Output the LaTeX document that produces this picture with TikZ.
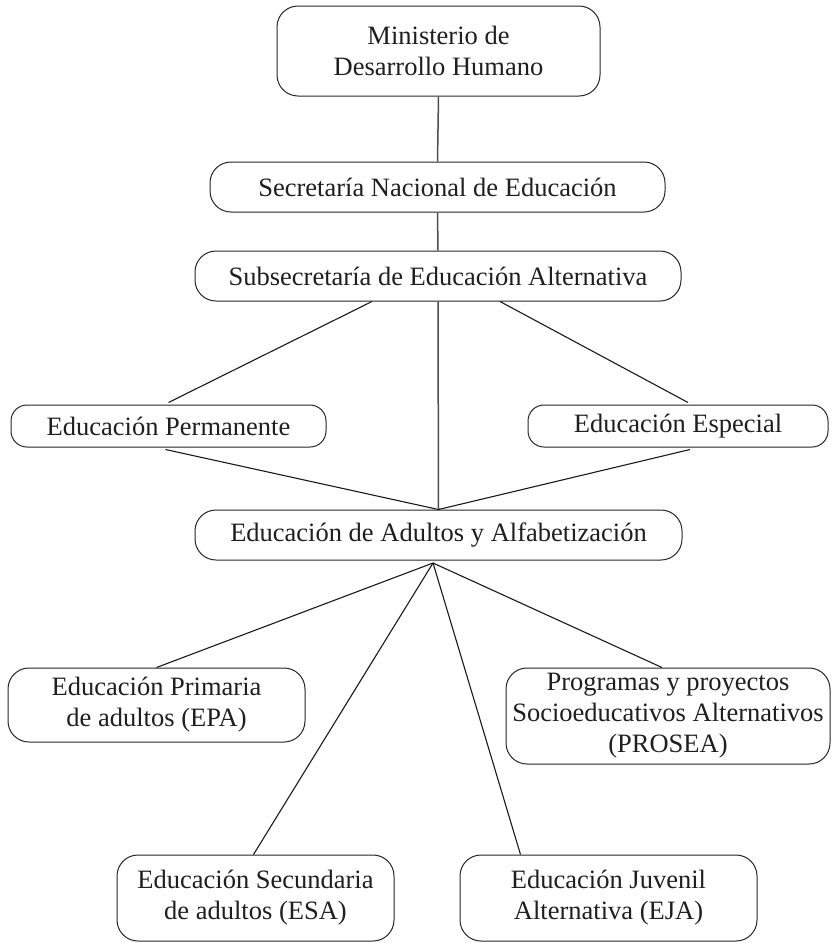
\documentclass[tikz,border=0pt]{standalone}
\usepackage{fontspec}
\setmainfont{Liberation Serif}
\begin{document}
\begin{tikzpicture}[x=1pt,y=-1pt,
  box/.style={draw=black!85, line width=1pt, rounded corners=21pt, fill=white,
    align=center, inner sep=0pt, text=black!88,
    font=\fontsize{26.5}{31}\selectfont},
  link/.style={draw=black!90, line width=1.1pt},
  vlink/.style={draw=black!70, line width=1.5pt}]
\useasboundingbox (0,0) rectangle (837,943);
% boxes
\node[box, minimum width=323pt, minimum height=90pt] (b1) at (438.5,51) {Ministerio de\\Desarrollo Humano};
\node[box, minimum width=455pt, minimum height=50pt] (b2) at (437.5,187) {Secretaría Nacional de Educación};
\node[box, minimum width=486pt, minimum height=50pt] (b3) at (438,276) {Subsecretaría de Educación Alternativa};
\node[box, rounded corners=16pt, minimum width=315pt, minimum height=42pt] (perm) at (168.5,426) {Educación Permanente};
\node[box, rounded corners=16pt, minimum width=300pt, minimum height=42pt] (esp) at (678,426) {Educación Especial};
\node[box, minimum width=487pt, minimum height=50pt] (b4) at (438.5,535) {Educación de Adultos y Alfabetización};
\node[box, minimum width=297pt, minimum height=74pt] (epa) at (156.5,705) {Educación Primaria\\de adultos (EPA)};
\node[box, minimum width=324pt, minimum height=96pt] (pro) at (668,716) {Programas y proyectos\\Socioeducativos Alternativos\\(PROSEA)};
\node[box, minimum width=277pt, minimum height=86pt] (esa) at (255.5,898) {Educación Secundaria\\de adultos (ESA)};
\node[box, minimum width=297pt, minimum height=86pt] (eja) at (608.5,898) {Educación Juvenil\\Alternativa (EJA)};
% apex below b4
\coordinate (apex) at (433,563);
% connectors
\draw[vlink] (b1.south) -- (b2.north);
\draw[vlink] (b2.south) -- (b3.north);
\draw[vlink] (b3.south) -- (b4.north);
\draw[link] ([xshift=-66pt]b3.south) -- ([yshift=2pt]perm.north);
\draw[link] ([xshift=62pt]b3.south) -- ([xshift=10pt,yshift=2pt]esp.north);
\draw[link] ([xshift=-3pt,yshift=-2pt]perm.south) -- (b4.north);
\draw[link] ([xshift=12pt,yshift=-2pt]esp.south) -- (b4.north);
\draw[link] (apex) -- (epa.north);
\draw[link] (apex) -- ([xshift=-6pt]pro.north);
\draw[link] (apex) -- ([xshift=-2pt]esa.north);
\draw[link] (apex) -- ([xshift=-88pt]eja.north);
\end{tikzpicture}
\end{document}
